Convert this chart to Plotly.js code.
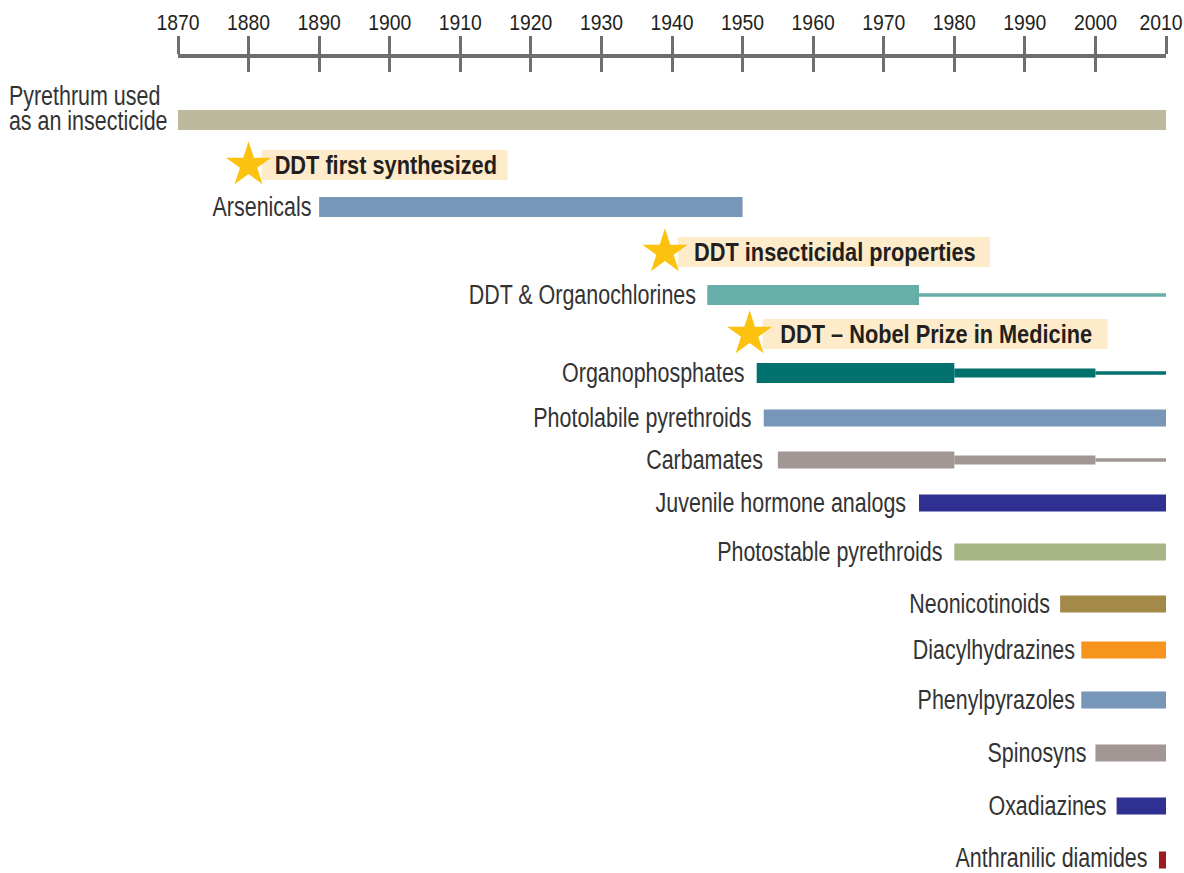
<!DOCTYPE html>
<html>
<head>
<meta charset="utf-8">
<script src="https://cdn.plot.ly/plotly-3.0.1.min.js"></script>
<style>html,body{margin:0;padding:0;background:#fff}</style>
</head>
<body>
<div id="chart" style="width:1184px;height:873px"></div>
<script>
// ---------------- DATA ----------------
const categories = ['Pyrethrum used<br>as an insecticide', 'Arsenicals', 'DDT & Organochlorines', 'Organophosphates',
  'Photolabile pyrethroids', 'Carbamates', 'Juvenile hormone analogs', 'Photostable pyrethroids',
  'Neonicotinoids', 'Diacylhydrazines', 'Phenylpyrazoles', 'Spinosyns', 'Oxadiazines', 'Anthranilic diamides'];
// year introduced
const introYear = [1870, 1890, 1945, 1952, 1953, 1955, 1975, 1980, 1995, 1998, 1998, 2000, 2003, 2009];
// end of widespread (heavy) use
const widespreadEnd = [2010, 1950, 1975, 1980, 2010, 1980, 2010, 2010, 2010, 2010, 2010, 2010, 2010, 2010];
// end of reduced use phase (medium line)
const reducedEnd = [null, null, null, 2000, null, 2000, null, null, null, null, null, null, null, null];
// end of residual use phase (thin line)
const residualEnd = [null, null, 2010, 2010, null, 2010, null, null, null, null, null, null, null, null];

const milestoneLabels = ['DDT first synthesized', 'DDT insecticidal properties', 'DDT \u2013 Nobel Prize in Medicine'];
const milestoneYears = [1880, 1939, 1951];

const tickYears = [1870, 1880, 1890, 1900, 1910, 1920, 1930, 1940, 1950, 1960, 1970, 1980, 1990, 2000, 2010];

// ---------------- LAYOUT / STYLE ----------------
const W = 1184, H = 873, TOP = 58;
const rowPos = [120, 207, 295, 373, 418, 460, 503, 552, 604, 650, 700, 753, 806, 860];
const labelGap = [-8, -5, -9, -10, -10, -13, -11, -9, -8, -4, -4, -6, -8, -9];
const labelLift = [6.5, 0, 0, 0, 0, 0, 0, 0, 0, 0, 0, 0, 0, 2];
const milestonePos = [165, 252, 334];
const boxWidth = [246, 312, 345];
const barColors = ['#bdb99c', '#7896b8', '#66aea7', '#00716d', '#7796b8', '#a29794', '#2e3192',
  '#a8b585', '#a38a48', '#f7941e', '#7796b8', '#a29794', '#2e3192', '#9e1b20'];
const barThick = [20, 20, 20, 20, 17, 17, 17, 17, 17, 17, 17, 17, 17, 17];
const FONT = "'Liberation Sans', Arial, sans-serif";
const axisGrey = '#6d6e70';
const LABEL_SCALE = 0.795, BOLD_SCALE = 0.87, TICK_SCALE = 0.88;

// ---------------- TRACES ----------------
const plainName = c => c.replace('<br>', ' ');
const heavy = {
  type: 'bar', orientation: 'h', y: rowPos, base: introYear,
  x: introYear.map((s, i) => widespreadEnd[i] - s),
  width: barThick, marker: {color: barColors, line: {width: 0}},
  hoverinfo: 'text', hovertext: categories.map(plainName)
};
const mediumIdx = reducedEnd.map((v, i) => v === null ? null : i).filter(v => v !== null);
const medium = {
  type: 'bar', orientation: 'h', y: mediumIdx.map(i => rowPos[i]),
  base: mediumIdx.map(i => widespreadEnd[i]),
  x: mediumIdx.map(i => reducedEnd[i] - widespreadEnd[i]),
  width: 9, marker: {color: mediumIdx.map(i => barColors[i]), line: {width: 0}},
  hoverinfo: 'text', hovertext: mediumIdx.map(i => plainName(categories[i]))
};
const thinIdx = residualEnd.map((v, i) => v === null ? null : i).filter(v => v !== null);
const thinBase = i => reducedEnd[i] !== null ? reducedEnd[i] : widespreadEnd[i];
const thin = {
  type: 'bar', orientation: 'h', y: thinIdx.map(i => rowPos[i]),
  base: thinIdx.map(thinBase),
  x: thinIdx.map(i => residualEnd[i] - thinBase(i)),
  width: 3.5, marker: {color: thinIdx.map(i => barColors[i]), line: {width: 0}},
  hoverinfo: 'text', hovertext: thinIdx.map(i => plainName(categories[i]))
};
const stars = {
  type: 'scatter', mode: 'markers', x: milestoneYears, y: milestonePos,
  marker: {symbol: 'star', size: 34, color: '#fdc210', line: {width: 0}},
  cliponaxis: false, hoverinfo: 'text', hovertext: milestoneLabels
};
const tickHelper = {type: 'scatter', mode: 'markers', x: [], y: [], xaxis: 'x2', yaxis: 'y', hoverinfo: 'skip'};

// ---------------- ANNOTATIONS ----------------
const annotations = [];
const annoStyle = []; // {scale, anchor, tight}
const labelFont = {family: FONT, size: 27, color: '#333333'};
categories.forEach((c, i) => {
  annotations.push({
    xref: 'x', yref: 'y', x: introYear[i], y: rowPos[i], text: c, showarrow: false, align: 'left',
    xanchor: 'right', yanchor: 'middle', xshift: labelGap[i], yshift: labelLift[i], font: labelFont
  });
  annoStyle.push({scale: LABEL_SCALE, anchor: 'right', tight: i === 0});
});
// milestone texts (centred in their highlight boxes)
milestoneLabels.forEach((t, i) => {
  annotations.push({xref: 'x', yref: 'y', x: milestoneYears[i], y: milestonePos[i], text: '<b>' + t + '</b>',
    showarrow: false, xanchor: 'center', yanchor: 'middle', xshift: 13 + boxWidth[i] / 2 + 1, yshift: 0,
    font: {family: FONT, size: 25, color: '#231f20'}});
  annoStyle.push({scale: BOLD_SCALE, anchor: 'center'});
});

const shapes = milestoneLabels.map((t, i) => ({
  type: 'rect', xref: 'x', yref: 'y', xsizemode: 'pixel', ysizemode: 'pixel',
  xanchor: milestoneYears[i], yanchor: milestonePos[i],
  x0: 13, x1: 13 + boxWidth[i], y0: -15, y1: 15,
  fillcolor: '#fdebc9', line: {width: 0}, layer: 'below'
}));

const layout = {
  width: W, height: H,
  margin: {l: 178, r: 18, t: TOP, b: 0},
  paper_bgcolor: '#ffffff', plot_bgcolor: '#ffffff',
  showlegend: false, barmode: 'overlay',
  xaxis: {
    range: [1870, 2010], side: 'top', tickvals: tickYears, ticktext: tickYears.map(String),
    ticks: 'outside', ticklen: 18, tickwidth: 3, tickcolor: axisGrey,
    showline: true, linewidth: 4, linecolor: axisGrey,
    showgrid: false, zeroline: false, fixedrange: true, ticklabeloverflow: 'allow',
    tickfont: {family: FONT, size: 22, color: '#231f20'}, ticklabelstandoff: -3
  },
  xaxis2: {
    range: [1870, 2010], side: 'top', overlaying: 'x', anchor: 'y', tickvals: tickYears,
    ticks: 'inside', ticklen: 14, tickwidth: 3, tickcolor: axisGrey,
    showticklabels: false, showline: false, showgrid: false, zeroline: false, fixedrange: true
  },
  yaxis: {range: [H, TOP], visible: false, showgrid: false, zeroline: false, fixedrange: true},
  annotations: annotations,
  shapes: shapes
};

// horizontally condense real text (reference uses a condensed typeface)
function condense(t, s, anchor, dx) {
  const r = t.getBoundingClientRect();
  if (!r.width) return;
  const ax = anchor === 'right' ? r.right : (r.left + r.right) / 2;
  const ay = (r.top + r.bottom) / 2;
  const svg = t.ownerSVGElement;
  let pt = svg.createSVGPoint();
  pt.x = ax; pt.y = ay;
  pt = pt.matrixTransform(t.parentNode.getScreenCTM().inverse());
  const old = t.getAttribute('transform') || '';
  t.setAttribute('transform', `translate(${pt.x + (dx || 0)},${pt.y}) scale(${s},1) translate(${-pt.x},${-pt.y}) ${old}`);
}

// tighter line spacing for the two-line label (reference leading ~25px)
function tighten(t, spacing) {
  const lines = t.querySelectorAll('tspan.line');
  if (lines.length < 2) return;
  const r1 = lines[0].getBoundingClientRect(), r2 = lines[1].getBoundingClientRect();
  const delta = (r2.top - r1.top) - spacing;
  if (Math.abs(delta) < 0.5) return;
  const y = lines[1].getAttribute('y');
  if (y !== null && y !== '' && !isNaN(parseFloat(y))) {
    lines[1].setAttribute('y', parseFloat(y) - delta);
  } else {
    lines[1].setAttribute('dy', ((r2.top - r1.top) - delta) + 'px');
  }
}

Plotly.newPlot('chart', [heavy, medium, thin, stars, tickHelper], layout, {displayModeBar: false, staticPlot: true})
  .then(gd => {
    gd.querySelectorAll('g.annotation').forEach(g => {
      const idx = +g.getAttribute('data-index');
      const st = annoStyle[idx];
      const t = g.querySelector('text');
      if (!st || !t) return;
      if (st.tight) tighten(t, 25);
      condense(t, st.scale, st.anchor);
    });
    const ticks = gd.querySelectorAll('g.xtick text');
    ticks.forEach((t, k) => condense(t, TICK_SCALE, 'center', k === ticks.length - 1 ? -5 : 0));
  });
</script>
</body>
</html>
